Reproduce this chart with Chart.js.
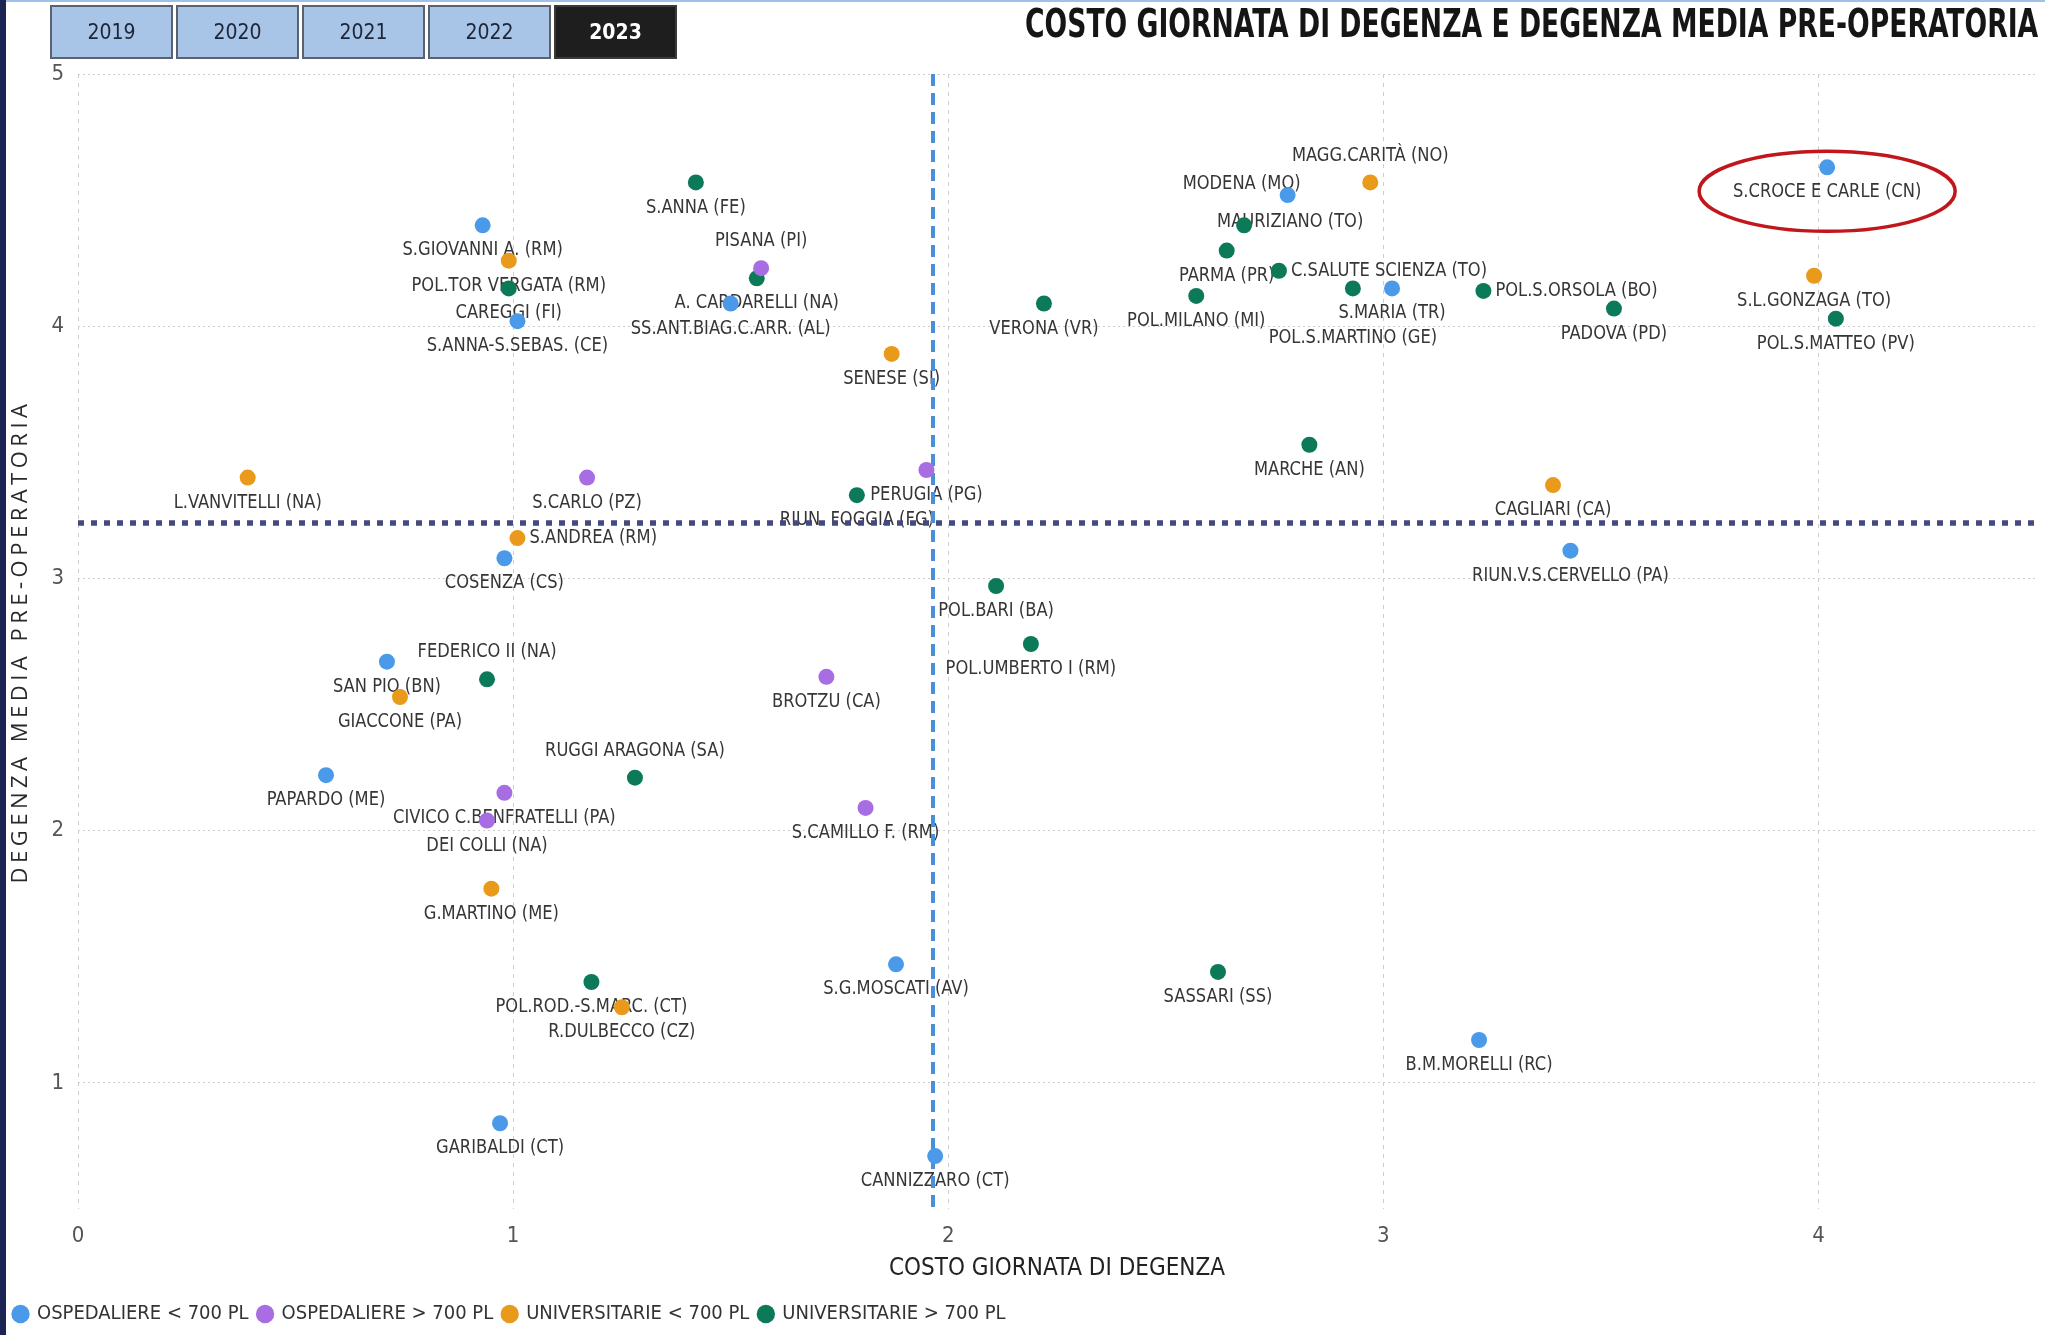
<!DOCTYPE html>
<html>
<head>
<meta charset="utf-8">
<script src="https://cdn.jsdelivr.net/npm/chart.js@4.4.1/dist/chart.umd.min.js"></script>
<style>
  html, body { margin: 0; padding: 0; background: #fff; }
  body { width: 2045px; height: 1335px; position: relative; overflow: hidden; }
  #topline { position: absolute; left: 0; top: 0; width: 2045px; height: 2px; background: #9fc0e8; z-index: 3; }
  #leftbar { position: absolute; left: 0; top: 0; width: 6px; height: 1335px; background: #1b2452; z-index: 3; }
  #wrap { position: absolute; left: 0; top: 0; width: 2045px; height: 1335px; }
  #title { position: absolute; right: 7px; top: 0; line-height: 48px; font-weight: bold; font-size: 39px;
           font-family: 'Liberation Sans Narrow', 'DejaVu Sans Condensed', 'Roboto Condensed', sans-serif; color: #151515;
           transform: scaleX(0.76); transform-origin: right center; white-space: nowrap; z-index: 2; }
  .years { position: absolute; left: 50px; top: 5px; display: flex; gap: 3px; z-index: 2; }
  .years div { width: 119px; height: 50px; border: 2px solid #59626e; background: #a8c4e7; color: #1d2538;
               font: 21px 'Liberation Sans Narrow', 'DejaVu Sans Condensed', sans-serif; text-align: center; line-height: 50px; }
  .years div.on { background: #1e1e1e; color: #fff; font-weight: bold; border-color: #3a3a3a; }
</style>
</head>
<body>
<div id="topline"></div>
<div id="leftbar"></div>
<div class="years">
  <div>2019</div><div>2020</div><div>2021</div><div>2022</div><div class="on">2023</div>
</div>
<div id="title">COSTO GIORNATA DI DEGENZA E DEGENZA MEDIA PRE-OPERATORIA</div>
<div id="wrap"><canvas id="myChart"></canvas></div>
<script>
var NARROW = "'Liberation Sans Narrow', 'DejaVu Sans Condensed', 'Roboto Condensed', sans-serif";

// legend / series names
var seriesNames = ["OSPEDALIERE < 700 PL", "OSPEDALIERE > 700 PL", "UNIVERSITARIE < 700 PL", "UNIVERSITARIE > 700 PL"];

// OSPEDALIERE < 700 PL
var ospSmallNames = ["S.GIOVANNI A. (RM)", "S.ANNA-S.SEBAS. (CE)", "SS.ANT.BIAG.C.ARR. (AL)", "MODENA (MO)", "S.MARIA (TR)",
    "S.CROCE E CARLE (CN)", "COSENZA (CS)", "RIUN.V.S.CERVELLO (PA)", "SAN PIO (BN)", "PAPARDO (ME)",
    "S.G.MOSCATI (AV)", "B.M.MORELLI (RC)", "GARIBALDI (CT)", "CANNIZZARO (CT)"];
var ospSmallCost = [0.93, 1.01, 1.50, 2.78, 3.02, 4.02, 0.98, 3.43, 0.71, 0.57, 1.88, 3.22, 0.97, 1.97];
var ospSmallStay = [4.40, 4.02, 4.09, 4.52, 4.15, 4.63, 3.08, 3.11, 2.67, 2.22, 1.47, 1.17, 0.84, 0.71];

// OSPEDALIERE > 700 PL
var ospBigNames = ["PISANA (PI)", "S.CARLO (PZ)", "PERUGIA (PG)", "BROTZU (CA)", "CIVICO C.BENFRATELLI (PA)",
    "DEI COLLI (NA)", "S.CAMILLO F. (RM)"];
var ospBigCost = [1.57, 1.17, 1.95, 1.72, 0.98, 0.94, 1.81];
var ospBigStay = [4.23, 3.40, 3.43, 2.61, 2.15, 2.04, 2.09];

// UNIVERSITARIE < 700 PL
var uniSmallNames = ["POL.TOR VERGATA (RM)", "MAGG.CARITÀ (NO)", "SENESE (SI)", "S.L.GONZAGA (TO)", "L.VANVITELLI (NA)",
    "S.ANDREA (RM)", "CAGLIARI (CA)", "GIACCONE (PA)", "G.MARTINO (ME)", "R.DULBECCO (CZ)"];
var uniSmallCost = [0.99, 2.97, 1.87, 3.99, 0.39, 1.01, 3.39, 0.74, 0.95, 1.25];
var uniSmallStay = [4.26, 4.57, 3.89, 4.20, 3.40, 3.16, 3.37, 2.53, 1.77, 1.30];

// UNIVERSITARIE > 700 PL
var uniBigNames = ["S.ANNA (FE)", "CAREGGI (FI)", "A. CARDARELLI (NA)", "VERONA (VR)", "MAURIZIANO (TO)", "PARMA (PR)",
    "C.SALUTE SCIENZA (TO)", "POL.MILANO (MI)", "POL.S.MARTINO (GE)", "POL.S.ORSOLA (BO)", "PADOVA (PD)",
    "POL.S.MATTEO (PV)", "MARCHE (AN)", "RIUN. FOGGIA (FG)", "POL.BARI (BA)", "POL.UMBERTO I (RM)", "FEDERICO II (NA)",
    "RUGGI ARAGONA (SA)", "POL.ROD.-S.MARC. (CT)", "SASSARI (SS)"];
var uniBigCost = [1.42, 0.99, 1.56, 2.22, 2.68, 2.64, 2.76, 2.57, 2.93, 3.23, 3.53, 4.04, 2.83, 1.79, 2.11, 2.19, 0.94, 1.28, 1.18, 2.62];
var uniBigStay = [4.57, 4.15, 4.19, 4.09, 4.40, 4.30, 4.22, 4.12, 4.15, 4.14, 4.07, 4.03, 3.53, 3.33, 2.97, 2.74, 2.60, 2.21, 1.40, 1.44];

// reference lines (averages)
var meanCost = 1.965;
var meanStay = 3.22;

var xTicks = [0, 1, 2, 3, 4];
var yTicks = [1, 2, 3, 4, 5];

var highlighted = "S.CROCE E CARLE (CN)";

// where each label sits relative to its dot (default: below)
var labelPlace = {
    "MAGG.CARITÀ (NO)": "above", "PISANA (PI)": "above", "FEDERICO II (NA)": "above", "RUGGI ARAGONA (SA)": "above",
    "C.SALUTE SCIENZA (TO)": "right", "POL.S.ORSOLA (BO)": "right", "S.ANDREA (RM)": "right",
    "MODENA (MO)": "modena", "MAURIZIANO (TO)": "over", "POL.S.MARTINO (GE)": "below2"
};

var colors = ["#4a9ae9", "#a86de2", "#e99a1b", "#0c7a59"];

var makePoints = function (names, cost, stay) {
    return names.map(function (n, i) { return {x: cost[i], y: stay[i], name: n}; });
};

var allSeries = [
    makePoints(ospSmallNames, ospSmallCost, ospSmallStay),
    makePoints(ospBigNames, ospBigCost, ospBigStay),
    makePoints(uniSmallNames, uniSmallCost, uniSmallStay),
    makePoints(uniBigNames, uniBigCost, uniBigStay)
];

var data = {
    datasets: allSeries.map(function (pts, i) {
        return {
            label: seriesNames[i],
            data: pts,
            backgroundColor: colors[i],
            borderColor: colors[i],
            borderWidth: 0,
            pointRadius: 8,
            pointHoverRadius: 8,
            pointStyle: 'circle'
        };
    })
};

// labels, then average lines, then the dots on top
var extrasPlugin = {
    id: 'extras',
    beforeDraw: function (chart) {
        var ys = chart.scales.y;
        if (ys && !ys._spaced) {
            var orig = ys.drawTitle;
            ys.drawTitle = function () {
                this.ctx.save();
                this.ctx.letterSpacing = '4.5px';
                orig.apply(this, arguments);
                this.ctx.restore();
            };
            ys._spaced = true;
        }
    },
    beforeDatasetsDraw: function (chart) {
        var ctx = chart.ctx;
        var area = chart.chartArea;
        ctx.save();
        ctx.font = '19.5px ' + NARROW;
        ctx.fillStyle = '#363636';
        ctx.textBaseline = 'middle';
        chart.data.datasets.forEach(function (ds, di) {
            var meta = chart.getDatasetMeta(di);
            meta.data.forEach(function (pt, i) {
                var name = ds.data[i].name;
                var pos = labelPlace[name] || 'below';
                var x = pt.x, y = pt.y + 25, align = 'center';
                if (pos === 'below2') y = pt.y + 50;
                if (pos === 'above') y = pt.y - 27;
                if (pos === 'right') { x = pt.x + 12; y = pt.y; align = 'left'; }
                if (pos === 'modena') { x = pt.x + 13; y = pt.y - 11; align = 'right'; }
                if (pos === 'over') { x = pt.x - 27; y = pt.y - 3; align = 'left'; }
                ctx.save();
                ctx.translate(x, y);
                ctx.scale(0.93, 1);
                ctx.textAlign = align;
                ctx.fillText(name, 0, 0);
                ctx.restore();
            });
        });

        var mx = chart.scales.x.getPixelForValue(meanCost);
        ctx.beginPath();
        ctx.strokeStyle = '#4a8fd8';
        ctx.lineWidth = 4;
        ctx.setLineDash([12, 7]);
        ctx.moveTo(mx, area.top);
        ctx.lineTo(mx, area.bottom);
        ctx.stroke();

        var my = chart.scales.y.getPixelForValue(meanStay);
        ctx.beginPath();
        ctx.strokeStyle = '#444980';
        ctx.lineWidth = 5.5;
        ctx.setLineDash([6, 7]);
        ctx.moveTo(area.left, my);
        ctx.lineTo(area.right + 4, my);
        ctx.stroke();
        ctx.restore();
    },
    afterDraw: function (chart) {
        chart.data.datasets.forEach(function (ds, di) {
            ds.data.forEach(function (p, i) {
                if (p.name !== highlighted) return;
                var pt = chart.getDatasetMeta(di).data[i];
                var ctx = chart.ctx;
                ctx.save();
                ctx.beginPath();
                ctx.strokeStyle = '#c0161c';
                ctx.lineWidth = 3.5;
                ctx.ellipse(pt.x, pt.y + 24, 128, 40, 0, 0, Math.PI * 2);
                ctx.stroke();
                ctx.restore();
            });
        });
    }
};

var ctx = document.getElementById("myChart");
var chart = new Chart(ctx, {
    type: 'scatter',
    data: data,
    plugins: [extrasPlugin],
    options: {
        responsive: true,
        maintainAspectRatio: false,
        animation: false,
        layout: {padding: {top: 74, right: 9, left: 4, bottom: 1}},
        plugins: {
            tooltip: {enabled: false},
            legend: {
                position: 'bottom',
                align: 'start',
                labels: {
                    usePointStyle: true,
                    pointStyle: 'circle',
                    boxWidth: 13,
                    boxHeight: 13,
                    padding: 10,
                    color: '#333',
                    font: {size: 20, family: NARROW}
                }
            }
        },
        scales: {
            x: {
                type: 'linear',
                min: 0,
                max: 4.5,
                afterFit: function (s) { s.height = 85; },
                afterBuildTicks: function (s) { s.ticks = xTicks.map(function (v) { return {value: v}; }); },
                ticks: {stepSize: 1, includeBounds: false, padding: 14, color: '#555', font: {size: 22, family: NARROW}},
                grid: {color: '#cdcdcd', lineWidth: 1, drawTicks: false},
                border: {display: false, dash: [4, 5]},
                title: {display: true, text: 'COSTO GIORNATA DI DEGENZA', color: '#222', padding: 11,
                        font: {size: 24, family: NARROW}}
            },
            y: {
                type: 'linear',
                min: 0.5,
                max: 5,
                afterFit: function (s) { s.width = 74; },
                afterBuildTicks: function (s) { s.ticks = yTicks.map(function (v) { return {value: v}; }); },
                ticks: {stepSize: 1, includeBounds: false, padding: 14, color: '#555', font: {size: 22, family: NARROW}},
                grid: {color: '#cdcdcd', lineWidth: 1, drawTicks: false},
                border: {display: false, dash: [2, 3]},
                title: {display: true, text: 'DEGENZA MEDIA PRE-OPERATORIA', color: '#2a2a2a', padding: 4,
                        font: {size: 22, family: "'Open Sans', 'DejaVu Sans', sans-serif"}}
            }
        }
    }
});
</script>
</body>
</html>
